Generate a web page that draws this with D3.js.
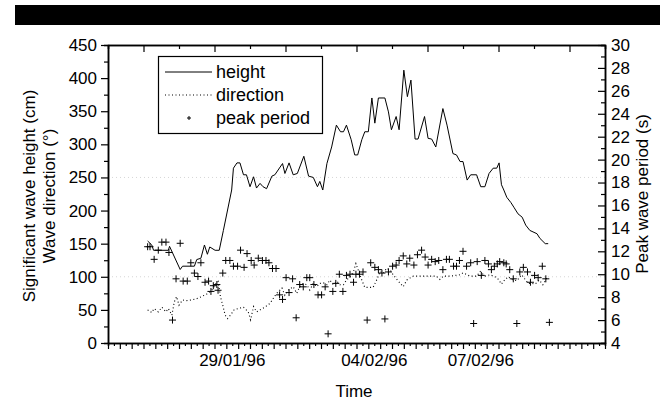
<!DOCTYPE html>
<html>
<head>
<meta charset="utf-8">
<script src="https://cdn.jsdelivr.net/npm/d3@7"></script>
<style>
  body { margin: 0; background: #fff; }
  text { font-family: "Liberation Sans", Arial, sans-serif; fill: #000; }
</style>
</head>
<body>
<svg id="chart" width="665" height="401"></svg>
<script>
// x values are sample steps along the time axis (one bottom minor tick = 1 step)
const heightX = [6.7, 7.4, 7.7, 10.2, 10.4, 12.2, 12.6, 14.6, 15.0, 15.7, 16.3, 16.8, 17.2, 18.1, 18.8, 19.5,
  20.9, 21.2, 21.8, 22.3, 22.9, 23.4, 24.0, 24.6, 25.1, 25.7, 26.2, 26.8, 27.7, 28.2, 29.5, 29.9, 30.6, 31.3,
  32.0, 33.1, 33.9, 34.7, 35.4, 35.8, 36.3, 37.0, 37.8, 38.6, 39.3, 39.8, 40.3, 41.1, 41.7, 42.2, 42.9, 43.4,
  44.0, 44.6, 45.1, 45.7, 46.8, 47.4, 47.9, 48.7, 49.2, 50.0, 50.6, 51.2, 51.9, 52.4, 53.5, 54.1, 54.7, 55.4,
  56.6, 57.3, 58.3, 58.9, 59.5, 60.0, 60.7, 61.3, 62.3, 63.0, 63.7, 64.4, 65.1, 65.7, 66.1, 66.5, 66.9, 67.4,
  68.1, 68.6, 69.3, 70.0, 70.6, 71.3, 72.5, 73.0, 73.9, 74.4];
const heightCm = [154, 148, 140, 140, 146, 111, 116, 116, 126, 128, 148, 134, 145, 140, 140, 170,
  231, 264, 272, 272, 254, 254, 236, 251, 234, 241, 236, 233, 252, 254, 271, 256, 272, 254,
  256, 282, 252, 250, 236, 244, 231, 271, 296, 329, 319, 319, 329, 307, 284, 284, 307, 319,
  319, 370, 332, 370, 370, 349, 322, 342, 322, 412, 372, 397, 308, 308, 342, 309, 308, 296,
  354, 329, 286, 284, 274, 274, 246, 254, 254, 236, 236, 256, 264, 264, 272, 239, 231, 220,
  212, 205, 195, 190, 178, 170, 165, 158, 150, 150];

const dirX = [6.7, 7.4, 7.8, 8.5, 9.1, 9.8, 10.2, 10.8, 11.2, 11.6, 12.0, 12.6, 13.3, 14.1, 15.0, 15.8, 16.7,
  17.5, 18.1, 18.6, 18.8, 19.0, 19.4, 19.8, 20.2, 20.7, 21.3, 22.0, 22.9, 23.7, 24.1, 24.6, 25.1, 25.7, 26.5,
  27.4, 27.9, 28.5, 29.4, 29.9, 30.5, 31.3, 31.9, 32.4, 33.0, 33.6, 34.1, 34.7, 35.3, 35.8, 36.4, 37.0, 37.5,
  38.1, 38.7, 39.2, 39.8, 40.3, 40.9, 41.5, 41.9, 42.3, 42.9, 43.4, 44.3, 44.8, 45.4, 46.0, 46.5, 47.1, 47.7,
  48.2, 49.1, 49.9, 50.5, 51.0, 51.6, 52.7, 54.4, 55.5, 56.1, 56.7, 57.8, 59.5, 60.0, 61.2, 62.3, 62.9, 63.7,
  64.6, 65.4, 66.0, 66.5, 67.1, 67.7, 68.2, 69.1, 69.9, 70.5, 71.0, 71.6, 72.2, 72.9, 73.5, 74.0, 74.2];
const dirDeg = [50, 46, 52, 47, 54, 47, 52, 42, 62, 70, 57, 65, 64, 65, 67, 70, 74,
  79, 88, 93, 83, 70, 57, 42, 37, 42, 50, 52, 54, 47, 35, 55, 47, 50, 54,
  60, 67, 75, 83, 72, 80, 85, 75, 85, 90, 88, 80, 90, 85, 90, 91, 88, 95,
  88, 93, 88, 88, 95, 100, 108, 120, 110, 95, 84, 84, 84, 95, 108, 105, 113, 110,
  103, 93, 85, 95, 98, 101, 101, 101, 101, 96, 101, 101, 103, 106, 101, 101, 108, 101,
  103, 100, 96, 89, 96, 100, 96, 94, 103, 96, 90, 90, 89, 95, 88, 95, 100];

const periodX = [6.7, 7.1, 7.8, 8.5, 9.1, 9.8, 10.3, 10.9, 11.5, 12.2, 12.7, 13.4, 14.0, 14.6, 15.2, 15.7,
  16.4, 17.0, 17.4, 17.8, 18.4, 18.6, 19.4, 19.9, 20.6, 21.2, 21.9, 22.4, 23.0, 23.5, 24.2, 24.7, 25.4,
  26.1, 26.7, 27.2, 27.8, 28.4, 29.0, 29.5, 30.1, 30.6, 31.2, 31.8, 32.4, 33.0, 33.6, 34.1, 34.8, 35.5,
  36.1, 36.7, 37.2, 38.0, 38.5, 39.1, 39.7, 40.3, 40.9, 41.5, 41.9, 42.5, 43.1, 43.8, 44.4, 45.1, 45.7,
  46.3, 46.8, 47.4, 48.1, 48.7, 49.2, 49.9, 50.5, 51.0, 51.7, 52.3, 53.0, 53.6, 54.1, 54.7, 55.3, 55.9,
  56.6, 57.2, 57.7, 58.4, 58.9, 59.4, 60.0, 60.6, 61.3, 61.8, 62.4, 63.1, 63.7, 64.3, 64.8, 65.3, 65.8,
  66.2, 66.9, 67.3, 67.9, 68.5, 69.1, 69.6, 70.2, 70.9, 71.4, 72.1, 72.7, 73.4, 74.0, 74.6];
const periodS = [12.4, 12.4, 11.3, 12.1, 12.8, 12.8, 11.9, 6.0, 9.6, 12.7, 9.4, 9.4, 11.0, 10.1, 9.8, 11.0,
  9.3, 9.4, 8.5, 9.0, 9.1, 8.6, 10.1, 11.2, 11.2, 10.7, 10.7, 12.1, 10.6, 11.8, 11.2, 10.8, 11.4,
  11.2, 11.2, 11.0, 10.5, 10.5, 8.2, 7.8, 9.7, 8.4, 9.6, 6.2, 9.1, 8.9, 9.7, 9.7, 9.1, 8.2,
  8.2, 8.9, 4.8, 8.5, 9.2, 10.0, 8.5, 9.9, 10.0, 9.3, 10.0, 10.0, 10.2, 6.0, 11.0, 10.6, 10.4,
  10.1, 6.1, 10.2, 10.7, 10.8, 11.2, 11.6, 10.9, 11.4, 10.8, 11.7, 12.1, 11.5, 10.8, 11.3, 11.1, 11.2,
  10.4, 11.3, 11.3, 10.7, 10.7, 11.2, 12.0, 10.7, 11.0, 5.7, 11.1, 9.9, 11.2, 10.9, 10.4, 10.7, 10.9,
  11.1, 11.0, 10.9, 10.4, 9.6, 5.7, 10.2, 10.6, 10.2, 9.3, 9.9, 9.7, 10.7, 9.6, 5.8];

const dateLabels = ["29/01/96", "04/02/96", "07/02/96"];
const dateSteps = [21, 45, 63];
const legendNames = ["height", "direction", "peak period"];
const refLines = [250, 100];

const svg = d3.select("#chart");
const font = 17;

// black band at the top of the scanned page
svg.append("rect").attr("x", 15).attr("y", 5).attr("width", 645).attr("height", 20).attr("fill", "#000");

const x = d3.scaleLinear().domain([0, 84]).range([108, 605]);
const yL = d3.scaleLinear().domain([0, 450]).range([343, 45]);
const yR = d3.scaleLinear().domain([4, 30]).range([343, 45]);

// faint reference lines
svg.append("g").selectAll("line").data(refLines).enter().append("line")
  .attr("x1", x(0)).attr("x2", x(84))
  .attr("y1", d => yL(d)).attr("y2", d => yL(d))
  .attr("stroke", "#ccc").attr("stroke-width", 0.8).attr("stroke-dasharray", "1,3");

function styleAxis(g) {
  g.selectAll("path").attr("stroke", "#000").attr("stroke-width", 1.5);
  g.selectAll("line").attr("stroke", "#000").attr("stroke-width", 1.2);
  g.selectAll("text").attr("font-size", font).attr("font-family", "Liberation Sans, Arial, sans-serif");
}

// left axis
svg.append("g").attr("transform", `translate(${x(0)},0)`)
  .call(d3.axisLeft(yL).tickValues(d3.range(25, 450, 50)).tickSize(4).tickFormat(""))
  .call(styleAxis);
svg.append("g").attr("transform", `translate(${x(0)},0)`)
  .call(d3.axisLeft(yL).tickValues(d3.range(0, 451, 50)).tickSizeInner(7).tickSizeOuter(0).tickPadding(4))
  .call(styleAxis);

// right axis, ticks inside
svg.append("g").attr("transform", `translate(${x(84)},0)`)
  .call(d3.axisRight(yR).tickValues(d3.range(5, 30, 2)).tickSize(-4).tickFormat(""))
  .call(styleAxis);
svg.append("g").attr("transform", `translate(${x(84)},0)`)
  .call(d3.axisRight(yR).tickValues(d3.range(4, 31, 2)).tickSizeInner(-7).tickSizeOuter(0).tickPadding(6))
  .call(styleAxis);

// bottom axis
svg.append("g").attr("transform", `translate(0,${yL(0)})`)
  .call(d3.axisBottom(x).tickValues(d3.range(1, 84, 2)).tickSize(3).tickFormat(""))
  .call(styleAxis);
svg.append("g").attr("transform", `translate(0,${yL(0)})`)
  .call(d3.axisBottom(x).tickValues(d3.range(0, 85, 2)).tickSizeInner(6).tickSizeOuter(0).tickFormat(""))
  .call(styleAxis);

// top axis, ticks inside
svg.append("g").attr("transform", `translate(0,${yL(450)})`)
  .call(d3.axisTop(x).tickValues(d3.range(12, 84, 12)).tickSize(-4).tickFormat(""))
  .call(styleAxis);
svg.append("g").attr("transform", `translate(0,${yL(450)})`)
  .call(d3.axisTop(x).tickValues(d3.range(6, 84, 12)).tickSizeInner(-7).tickSizeOuter(0).tickFormat(""))
  .call(styleAxis);

// date labels
svg.append("g").selectAll("text").data(dateLabels).enter().append("text")
  .attr("x", (d, i) => x(dateSteps[i])).attr("y", 366)
  .attr("text-anchor", "middle").attr("font-size", font).text(d => d);

// axis titles
svg.append("text").attr("x", 354).attr("y", 397).attr("text-anchor", "middle")
  .attr("font-size", font).text("Time");
svg.append("text").attr("transform", "translate(35,196) rotate(-90)").attr("text-anchor", "middle")
  .attr("font-size", font).text("Significant wave height (cm)");
svg.append("text").attr("transform", "translate(55,196) rotate(-90)").attr("text-anchor", "middle")
  .attr("font-size", font).text("Wave direction (\u00b0)");
svg.append("text").attr("transform", "translate(648,194) rotate(-90)").attr("text-anchor", "middle")
  .attr("font-size", font).text("Peak wave period (s)");

// series
const heightLine = d3.line().x((d, i) => x(heightX[i])).y(d => yL(d));
svg.append("path").datum(heightCm).attr("d", heightLine)
  .attr("fill", "none").attr("stroke", "#000").attr("stroke-width", 1);

const dirLine = d3.line().x((d, i) => x(dirX[i])).y(d => yL(d));
svg.append("path").datum(dirDeg).attr("d", dirLine)
  .attr("fill", "none").attr("stroke", "#000").attr("stroke-width", 1.1).attr("stroke-dasharray", "1,2.5");

const cross = "M-3.5,0H3.5M0,-3.5V3.5";
svg.append("g").selectAll("path").data(periodS).enter().append("path")
  .attr("transform", (d, i) => `translate(${x(periodX[i])},${yR(d)})`)
  .attr("d", cross).attr("stroke", "#000").attr("stroke-width", 1).attr("fill", "none");

// legend
const lg = svg.append("g");
lg.append("rect").attr("x", 158.5).attr("y", 56.5).attr("width", 164).attr("height", 77)
  .attr("fill", "#fff").attr("stroke", "#000").attr("stroke-width", 1.2);
const rowY = [72, 95, 118];
lg.selectAll("text").data(legendNames).enter().append("text")
  .attr("x", 216).attr("y", (d, i) => rowY[i] + 6).attr("font-size", font + 1).text(d => d);
lg.append("line").attr("x1", 165).attr("x2", 212).attr("y1", rowY[0]).attr("y2", rowY[0])
  .attr("stroke", "#000").attr("stroke-width", 1);
lg.append("line").attr("x1", 165).attr("x2", 212).attr("y1", rowY[1]).attr("y2", rowY[1])
  .attr("stroke", "#000").attr("stroke-width", 1.1).attr("stroke-dasharray", "1,2.5");
lg.append("path").attr("transform", `translate(189,${rowY[2]})`).attr("d", "M-2,0H2M0,-2V2")
  .attr("stroke", "#000").attr("stroke-width", 1);
</script>
</body>
</html>
